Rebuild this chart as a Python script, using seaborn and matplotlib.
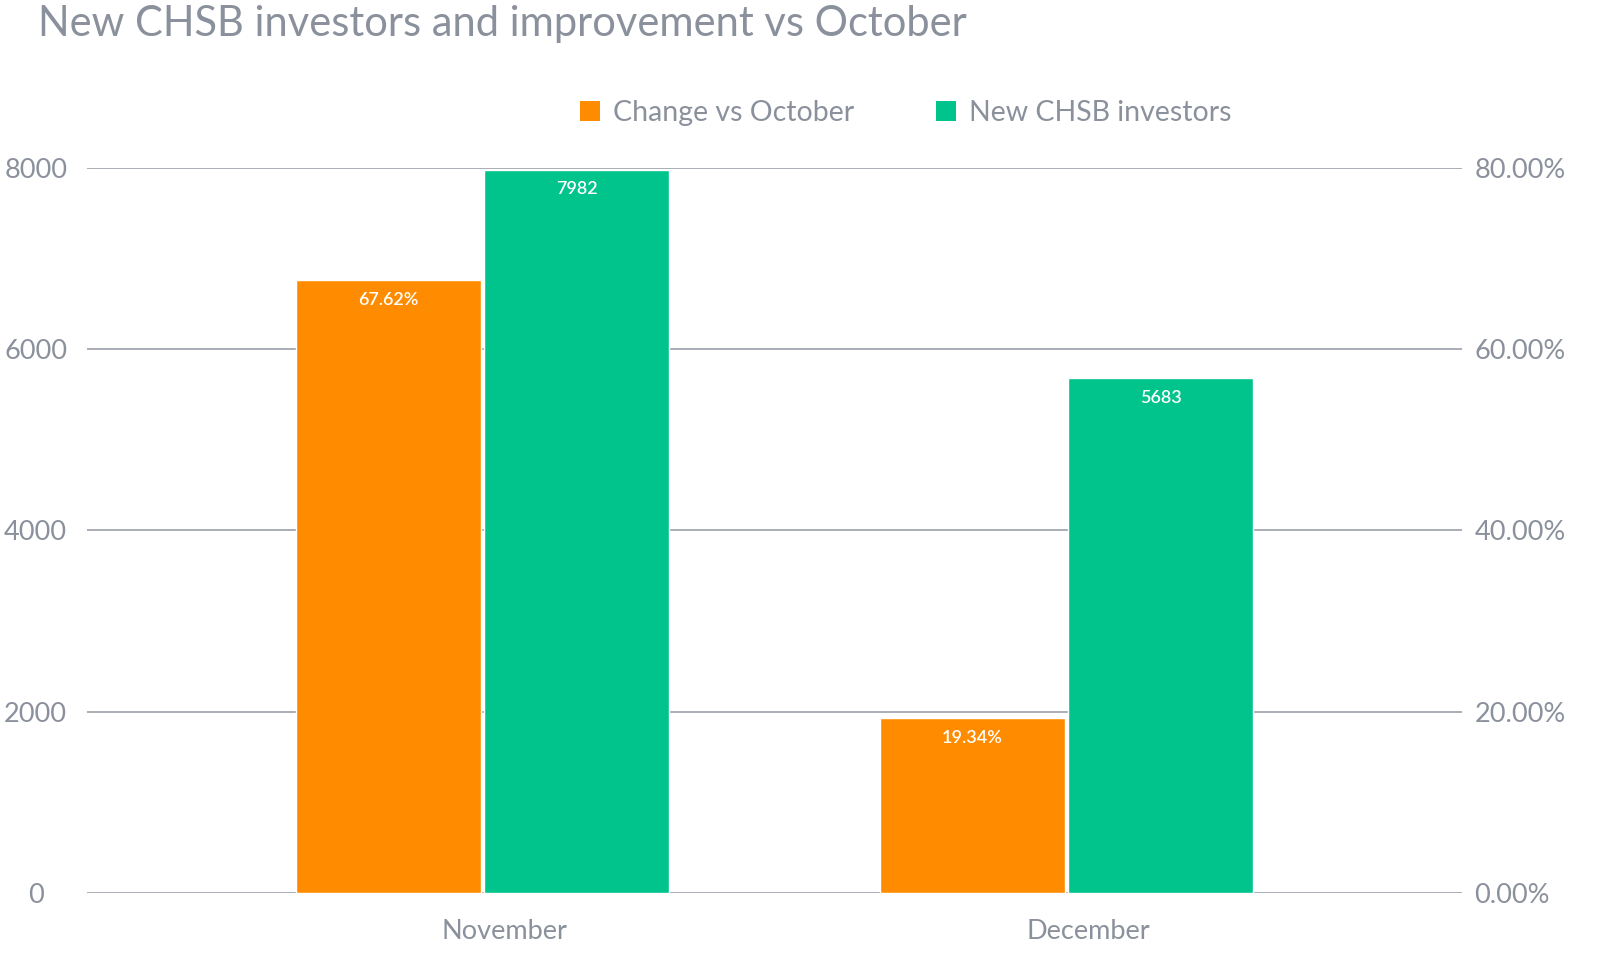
import pandas as pd
import matplotlib.pyplot as plt
import matplotlib.transforms as mtransforms
from matplotlib.patches import Patch
from matplotlib.ticker import FuncFormatter
import seaborn as sns

# data
months = ["November", "December"]
series_names = ["Change vs October", "New CHSB investors"]
change_vs_october = [67.62, 19.34]   # percent, right axis
new_investors = [7982, 5683]         # count, left axis

left_ticks = [0, 2000, 4000, 6000, 8000]
right_ticks = [0, 20, 40, 60, 80]

palette = {"Change vs October": "#FF8C00", "New CHSB investors": "#00C48C"}
grey = "#8b919c"
grid_grey = "#a2a7b0"

sns.set_theme(style="white")
plt.rcParams["font.family"] = ["Lato", "DejaVu Sans"]

df_change = pd.DataFrame({"month": months, "series": series_names[0], "value": change_vs_october})
df_new = pd.DataFrame({"month": months, "series": series_names[1], "value": new_investors})

fig = plt.figure(figsize=(16, 9.67), dpi=100)
ax = fig.add_axes([0.0544, 0.0765, 0.8594, 0.7498])
ax2 = ax.twinx()

bar_kw = dict(x="month", y="value", hue="series", hue_order=series_names, order=months,
              palette=palette, width=0.645, gap=0.016, dodge=True, saturation=1,
              errorbar=None, legend=False)
sns.barplot(data=df_new, ax=ax, **bar_kw)
sns.barplot(data=df_change, ax=ax2, **bar_kw)

# axes ranges
ax.set_ylim(0, 8000)
ax2.set_ylim(0, 80)
ax.set_xlim(-0.677, 1.677)
ax.set_yticks(left_ticks)
ax2.set_yticks(right_ticks)
ax2.yaxis.set_major_formatter(FuncFormatter(lambda v, p: f"{v:.2f}%"))

ax.yaxis.grid(True, color=grid_grey, linewidth=1.3)
ax.set_axisbelow(True)
ax2.grid(False)
for a in (ax, ax2):
    for s in a.spines.values():
        s.set_visible(False)
    a.set_xlabel("")
    a.set_ylabel("")

ax.tick_params(axis="y", length=0, pad=37, labelsize=19.5, labelcolor=grey)
for lab in ax.get_yticklabels():
    lab.set_horizontalalignment("center")
ax2.tick_params(axis="y", length=0, pad=9, labelsize=19.5, labelcolor=grey)
ax.tick_params(axis="x", length=0, pad=19, labelsize=19.5, labelcolor=grey)
offset = mtransforms.ScaledTranslation(0.22, 0, fig.dpi_scale_trans)
for lab in ax.get_xticklabels():
    lab.set_transform(lab.get_transform() + offset)


def filled(a):
    return [c for c in a.containers if len(c) and all(p is not None for p in c)]


# value labels inside the top of each bar
for c in filled(ax):
    ax.bar_label(c, labels=[f"{v:.0f}" for v in new_investors], padding=-20,
                 color="white", fontsize=13, fontweight="semibold")
for c in filled(ax2):
    ax2.bar_label(c, labels=[f"{v:.2f}%" for v in change_vs_october], padding=-20,
                  color="white", fontsize=13, fontweight="semibold")

fig.text(0.024, 1 - 24 / 967, "New CHSB investors and improvement vs October",
         fontsize=30, color=grey, va="center", ha="left")

handles = [Patch(facecolor=palette[s], edgecolor="none") for s in series_names]
fig.legend(handles, series_names, loc="center", bbox_to_anchor=(0.566, 0.883), ncol=2,
           frameon=False, columnspacing=2.9, handlelength=0.7, handleheight=0.7,
           handletextpad=0.45, fontsize=20.5, labelcolor=grey)

fig.savefig("out.png", dpi=100)
